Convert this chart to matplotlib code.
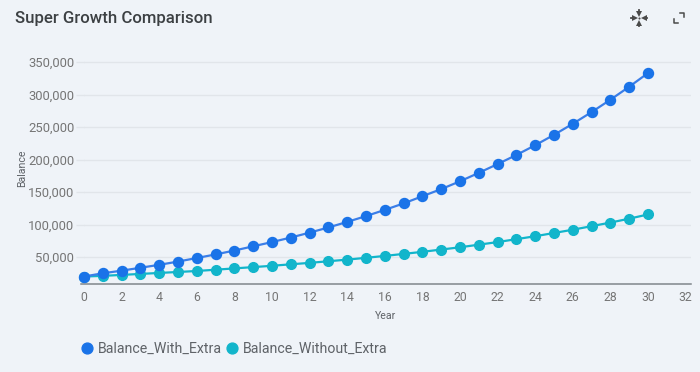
import matplotlib
matplotlib.use("Agg")
import matplotlib.pyplot as plt
from matplotlib.lines import Line2D

years = list(range(0, 31))
with_extra = [20000, 25000, 29000, 33500, 38000, 43000, 48500, 54000, 60000, 66500, 73000,
              80000, 87500, 95500, 104000, 113000, 122500, 132500, 143500, 154500, 166500,
              179500, 193000, 207000, 222000, 238000, 255000, 273000, 292000, 312000, 333000]
without_extra = [20000, 21000, 22500, 24000, 25500, 27000, 28500, 30500, 32500, 34500, 36500,
                 38800, 41000, 43500, 46000, 48800, 51700, 54800, 58000, 61500, 65000,
                 69000, 73000, 77500, 82000, 87000, 92000, 97500, 103000, 109000, 115500]
y_ticks = [50000, 100000, 150000, 200000, 250000, 300000, 350000]
x_ticks = list(range(0, 33, 2))

bg = "#eff3f8"
blue = "#1a73e8"
teal = "#12b5cb"
W, H = 700, 372

plt.rcParams["font.family"] = "Roboto"

fig = plt.figure(figsize=(7, 3.72), dpi=100, facecolor=bg)
ax = fig.add_axes([84 / W, 1 - 284 / H, (691 - 84) / W, (284 - 50) / H], facecolor=bg)

# line goes first, markers on top, blue over teal
ax.plot(years, without_extra, color=teal, lw=1.6, marker="o", ms=7.0, mec=teal, clip_on=False, zorder=3)
ax.plot(years, with_extra, color="#3b7ee8", lw=1.6, marker="o", ms=7.2, mfc=blue, mec=blue, clip_on=False, zorder=4)

ax.set_xlim(0, (691 - 84) / 18.8)
ax.set_ylim(8500, 8500 + (284 - 50) / 32.5 * 50000)
ax.set_xticks(x_ticks)
ax.set_yticks(y_ticks)
ax.set_yticklabels([f"{v:,}" for v in y_ticks])
ax.grid(axis="y", color="#e1e5ea", lw=1)
ax.set_axisbelow(True)
for s in ["top", "left", "right"]:
    ax.spines[s].set_visible(False)
ax.spines["bottom"].set_color("#80868b")
ax.spines["bottom"].set_linewidth(1.1)
ax.spines["bottom"].set_bounds(-0.16, (691 - 84) / 18.8)
ax.tick_params(axis="y", length=6, color="#e1e5ea", width=1, pad=1, labelsize=9.4, labelcolor="#757575")
ax.tick_params(axis="x", length=0, pad=5, labelsize=8.8, labelcolor="#757575")

fig.text(386 / W, 1 - 316 / H, "Year", fontsize=7.6, color="#5f6368", ha="center", va="center")
fig.text(22 / W, 1 - 168 / H, "Balance", fontsize=7.6, color="#5f6368", ha="center", va="center", rotation=90)
fig.text(15 / W, 1 - 19 / H, "Super Growth Comparison", fontsize=12.1, fontweight="medium",
         color="#3c4043", ha="left", va="center")

handles = [Line2D([], [], ls="", marker="o", ms=7.8, color=blue),
           Line2D([], [], ls="", marker="o", ms=7.8, color=teal)]
fig.legend(handles, ["Balance_With_Extra", "Balance_Without_Extra"], ncol=2, frameon=False,
           loc="center left", bbox_to_anchor=(71 / W, 1 - 349 / H), fontsize=10.2, labelcolor="#5f6368",
           handletextpad=0.07, columnspacing=0.07, handlelength=1.4, borderaxespad=0, borderpad=0.4)

# toolbar icons top right
icon = "#4a4a4a"
cx, cy = 639, 18
for m, dx, dy in [("v", 0, -4.5), ("^", 0, 4.5), (">", -4.5, 0), ("<", 4.5, 0)]:
    fig.add_artist(Line2D([(cx + dx) / W], [1 - (cy + dy) / H], marker=m, ms=4, color=icon, mew=0))
for dx, dy in [(0, -8), (0, 8), (-8, 0), (8, 0)]:
    fig.add_artist(Line2D([(cx + dx) / W, (cx + dx * 0.7) / W],
                          [1 - (cy + dy) / H, 1 - (cy + dy * 0.7) / H], color=icon, lw=1.3))
fig.add_artist(Line2D([cx / W], [1 - cy / H], marker="o", ms=1.5, color=icon, mew=0))
fig.add_artist(Line2D([674 / W, 674 / W, 678 / W], [1 - 19 / H, 1 - 23 / H, 1 - 23 / H], color=icon, lw=1.1))
fig.add_artist(Line2D([680 / W, 684 / W, 684 / W], [1 - 13 / H, 1 - 13 / H, 1 - 17 / H], color=icon, lw=1.1))

fig.savefig("out.png", dpi=100, facecolor=bg)
